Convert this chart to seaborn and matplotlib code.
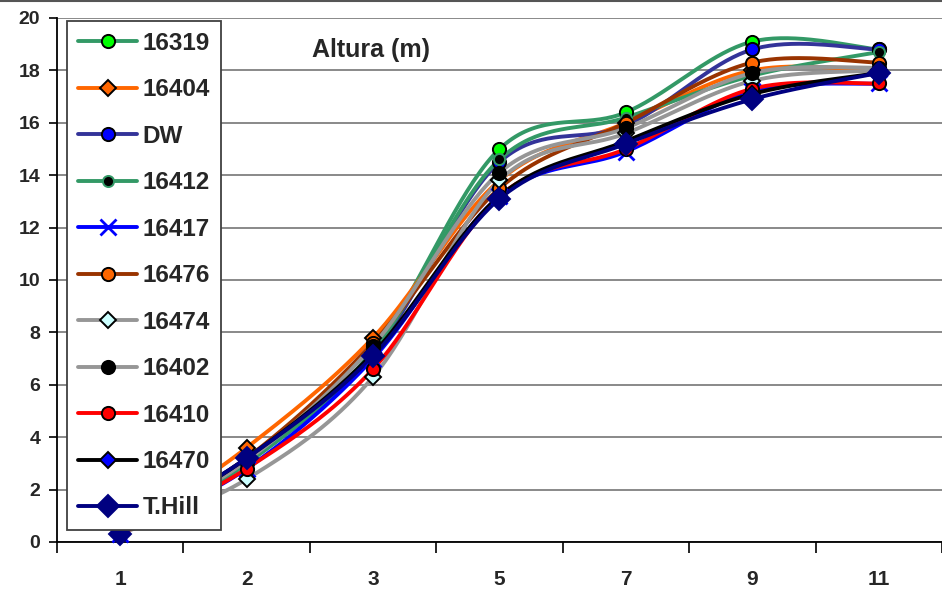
import numpy as np
import pandas as pd
import matplotlib
matplotlib.use("Agg")
import matplotlib.pyplot as plt
import seaborn as sns
from matplotlib.lines import Line2D

# Age classes on the horizontal axis (categorical, equally spaced)
ages = ["1", "2", "3", "5", "7", "9", "11"]

# Mean height (m) per clone at each age
h_16319 = [0.3, 3.0, 7.3, 15.0, 16.4, 19.1, 18.8]
h_16404 = [0.3, 3.6, 7.8, 13.8, 16.0, 18.0, 18.0]
h_dw    = [0.3, 3.2, 7.2, 14.5, 15.9, 18.8, 18.8]
h_16412 = [0.3, 3.0, 7.3, 14.6, 16.2, 17.8, 18.7]
h_16417 = [0.3, 2.8, 7.0, 13.2, 14.9, 17.2, 17.5]
h_16476 = [0.3, 3.2, 7.6, 13.5, 16.0, 18.3, 18.3]
h_16474 = [0.3, 2.4, 6.3, 13.8, 15.6, 17.6, 18.0]
h_16402 = [0.3, 3.1, 7.5, 14.1, 15.8, 17.9, 18.1]
h_16410 = [0.3, 2.8, 6.6, 13.2, 15.0, 17.3, 17.5]
h_16470 = [0.3, 3.2, 7.2, 13.2, 15.3, 17.1, 17.9]
h_thill = [0.3, 3.2, 7.1, 13.1, 15.2, 16.9, 17.9]

labels = ["16319", "16404", "DW", "16412", "16417", "16476",
          "16474", "16402", "16410", "16470", "T.Hill"]
values = [h_16319, h_16404, h_dw, h_16412, h_16417, h_16476,
          h_16474, h_16402, h_16410, h_16470, h_thill]

# (line colour, marker, face colour, edge colour, marker size)
styles = [
    ("#339966", "o", "#00FF00", "black",   9.5),
    ("#FF6600", "D", "#FF6600", "black",   8.5),
    ("#333399", "o", "#0000FF", "black",   9.5),
    ("#339966", "o", "black",   "#339966", 8),
    ("#0000FF", "x", "#0000FF", "#0000FF", 11),
    ("#993300", "o", "#FF6600", "black",   9.5),
    ("#969696", "D", "#CCFFFF", "black",   8.5),
    ("#969696", "o", "black",   "black",   9.5),
    ("#FF0000", "o", "#FF0000", "black",   9.5),
    ("black",   "D", "#0000FF", "black",   8.5),
    ("#000080", "D", "#000080", "#000080", 11),
]


def smooth_curve(y, n=40):
    """Cubic Bezier smoothing through the points (Catmull-Rom style)."""
    y = np.asarray(y, float)
    x = np.arange(len(y), dtype=float)
    px = np.concatenate([[x[0]], x, [x[-1]]])
    py = np.concatenate([[y[0]], y, [y[-1]]])
    t = np.linspace(0, 1, n)[:, None]
    xs, ys = [], []
    for i in range(len(y) - 1):
        p0 = np.array([px[i + 1], py[i + 1]])
        p3 = np.array([px[i + 2], py[i + 2]])
        c1 = p0 + (np.array([px[i + 2], py[i + 2]]) - np.array([px[i], py[i]])) / 6
        c2 = p3 - (np.array([px[i + 3], py[i + 3]]) - np.array([px[i + 1], py[i + 1]])) / 6
        b = ((1 - t) ** 3) * p0 + 3 * ((1 - t) ** 2) * t * c1 + 3 * (1 - t) * t ** 2 * c2 + t ** 3 * p3
        xs.append(b[:, 0])
        ys.append(b[:, 1])
    return np.concatenate(xs), np.concatenate(ys)


sns.set_theme(style="white")
plt.rcParams["font.family"] = ["Liberation Sans", "DejaVu Sans"]
plt.rcParams["font.weight"] = "bold"

fig = plt.figure(figsize=(9.42, 5.94), dpi=100)
ax = fig.add_axes([57 / 942, 52 / 594, 885 / 942, 524 / 594])

xpos = np.arange(len(ages))

# smoothed lines
for lab, vals, (lc, mk, fc, ec, ms) in zip(labels, values, styles):
    sx, sy = smooth_curve(vals)
    df = pd.DataFrame({"x": sx, "y": sy})
    sns.lineplot(data=df, x="x", y="y", sort=False, estimator=None,
                 color=lc, lw=2.8, ax=ax, zorder=2, legend=False)

# markers on the measured points
handles = []
for lab, vals, (lc, mk, fc, ec, ms) in zip(labels, values, styles):
    mew = 2.0 if mk == "x" else 1.4
    ax.plot(xpos, vals, ls="none", marker=mk, ms=ms, mfc=fc, mec=ec,
            mew=mew, zorder=3, clip_on=False)
    handles.append(Line2D([], [], color=lc, lw=2.8, marker=mk, ms=ms,
                          mfc=fc, mec=ec, mew=mew))

ax.set_xlim(-0.5, len(ages) - 0.5)
ax.set_ylim(0, 20)
ax.set_yticks(np.arange(0, 21, 2))
ax.set_xticks(xpos)
ax.set_xticklabels(ages)
ax.set_xticks(np.arange(-0.5, len(ages), 1), minor=True)
ax.set_xlabel("")
ax.set_ylabel("")

ax.tick_params(axis="x", which="major", length=0, pad=20, labelsize=15)
ax.tick_params(axis="x", which="minor", length=8, width=1.2, color="black",
               direction="out", bottom=True)
ax.tick_params(axis="y", length=6, width=1.2, color="black", direction="out",
               left=True, pad=6, labelsize=14)
for t in ax.get_xticklabels() + ax.get_yticklabels():
    t.set_fontweight("bold")

ax.yaxis.grid(True, color="#808080", lw=1.3)
ax.xaxis.grid(False)
ax.set_axisbelow(True)
for side in ("top", "right"):
    ax.spines[side].set_visible(False)
for side in ("left", "bottom"):
    ax.spines[side].set_color("black")
    ax.spines[side].set_linewidth(1.3)

ax.text(0.355, 0.939, "Altura (m)", transform=ax.transAxes, ha="center",
        va="center", fontsize=18, fontweight="bold")

leg = ax.legend(handles, labels, loc="upper left",
                bbox_to_anchor=(10 / 885, 1.0 - 3 / 524), borderaxespad=0,
                prop={"size": 17.5, "weight": "bold"}, handlelength=2.45,
                handletextpad=0.2, labelspacing=0.965, borderpad=0.45,
                numpoints=1, frameon=True, fancybox=False, framealpha=1)
leg.get_frame().set_edgecolor("#404040")
leg.get_frame().set_linewidth(1.3)
leg.set_zorder(5)

fig.add_artist(Line2D([0, 1], [0.998, 0.998], transform=fig.transFigure,
                      color="#555555", lw=1.5))

fig.savefig("out.png", dpi=100)
